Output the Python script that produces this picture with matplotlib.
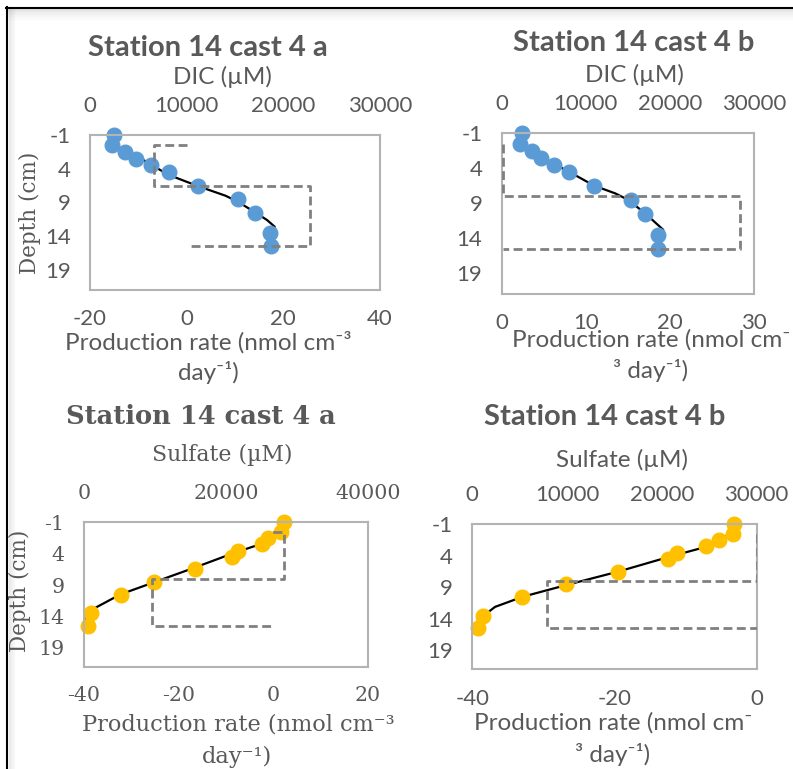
import matplotlib
matplotlib.use('Agg')
import matplotlib.pyplot as plt
from matplotlib.lines import Line2D

plt.rcParams['axes.unicode_minus'] = False

W, H = 793, 769

# ---------------- data ----------------
depth = [-1, 0.5, 1.5, 2.5, 3.5, 4.5, 6.5, 8.5, 10.5, 13.5, 15.5]
dic_a = [2480, 2240, 3620, 4760, 6280, 8170, 11140, 15350, 17070, 18620, 18700]
dic_b = [2375, 2180, 3560, 4670, 6250, 8000, 11000, 15360, 17020, 18600, 18600]
sulf_a = [28130, 27750, 26000, 25160, 21710, 20820, 15720, 9910, 5190, 944, 566]
sulf_b = [27600, 27530, 26010, 24600, 21610, 20620, 15370, 9870, 5217, 1093, 634]

fit_a_depth = [2.7, 4.9, 6.6, 8.0, 8.9, 10.5, 11.6, 12.6, 14.8]
fit_a_dic = [5500, 8100, 11200, 14000, 15300, 17100, 18300, 19100, 19000]
fit_b_depth = [3.5, 4.5, 6.5, 7.6, 8.5, 10.5, 12.8, 15.0]
fit_b_dic = [6400, 8000, 11000, 13500, 15000, 17100, 19200, 18900]
fit_c_depth = [0.2, 2.4, 3.9, 6.3, 8.5, 10.5, 12.8, 14.0, 14.8]
fit_c_sulf = [27200, 25100, 21100, 15400, 10000, 5100, 1300, 200, 0]
fit_d_depth = [0.4, 2.6, 4.1, 6.5, 8.6, 10.5, 12.1, 13.6, 14.2]
fit_d_sulf = [27400, 24600, 20900, 15400, 10000, 5300, 2400, 1100, 600]

prof_a_rate = [0, -6.8, -6.8, 25.5, 25.5, 0]
prof_a_depth = [0.5, 0.5, 6.5, 6.5, 15.5, 15.5]
prof_b_rate = [0.15, 0.15, 28.3, 28.3, 0.15]
prof_b_depth = [0.5, 8, 8, 15.5, 15.5]
prof_c_rate = [0, 2.3, 2.3, -25.6, -25.6, 0]
prof_c_depth = [0.5, 0.5, 8, 8, 15.5, 15.5]
prof_d_rate = [0, 0, -29.5, -29.5, 0]
prof_d_depth = [0.5, 8, 8, 15.5, 15.5]

depth_ticks = [-1, 4, 9, 14, 19]
titles = ["Station 14 cast 4 a", "Station 14 cast 4 b", "Station 14 cast 4 a", "Station 14 cast 4 b"]

# ---------------- style ----------------
SANS = ['Lato', 'DejaVu Sans']
SERIF = ['DejaVu Serif', 'DejaVu Sans']
TXT = '#595959'
BLUE = '#5B9BD5'
GOLD = '#FFC000'
DASH = '#808080'
SPINE = '#B3B3B3'

fig = plt.figure(figsize=(W / 100, H / 100), dpi=100)


def fx(x):
    return x / W


def fy(y):
    return 1 - y / H


def panel(box, rate_lim, rate_ticks, conc_lim, conc_ticks, conc, fit_d, fit_c,
          prof_r, prof_d, color, fam, tsize):
    l, r, t, b = box
    ax = fig.add_axes([fx(l), fy(b), (r - l) / W, (b - t) / H])
    ax.set_xlim(*rate_lim)
    ax.set_ylim(22, -1)
    ax.set_xticks(rate_ticks)
    ax.set_yticks(depth_ticks)
    ax.tick_params(length=0, labelsize=tsize, labelcolor=TXT, pad=14)
    for lab in ax.get_xticklabels() + ax.get_yticklabels():
        lab.set_family(fam)
    for s in ax.spines.values():
        s.set_color(SPINE)
        s.set_linewidth(1.5)
    ax.patch.set_alpha(0)
    ax2 = ax.twiny()
    ax2.set_xlim(*conc_lim)
    ax2.set_xticks(conc_ticks)
    ax2.tick_params(length=0, labelsize=tsize, labelcolor=TXT, pad=14)
    for lab in ax2.get_xticklabels():
        lab.set_family(fam)
    for s in ax2.spines.values():
        s.set_visible(False)
    ax2.plot(conc, depth, 'o', color=color, ms=10.5, mec=color, zorder=3, clip_on=False)
    ax2.plot(fit_c, fit_d, '-', color='black', lw=1.6, zorder=2)
    ax.set_zorder(ax2.get_zorder() + 1)
    ax.plot(prof_r, prof_d, color=DASH, lw=2.0, ls=(0, (3.2, 1.6)), zorder=4)
    return ax, ax2


panel((90, 380, 135, 290), (-20, 40), [-20, 0, 20, 40], (0, 30000), [0, 10000, 20000, 30000],
      dic_a, fit_a_depth, fit_a_dic, prof_a_rate, prof_a_depth, BLUE, SANS, 16)
panel((501.7, 754, 133.3, 294), (0, 30), [0, 10, 20, 30], (0, 30000), [0, 10000, 20000, 30000],
      dic_b, fit_b_depth, fit_b_dic, prof_b_rate, prof_b_depth, BLUE, SANS, 16)
panel((84, 367.7, 522.3, 666.7), (-40, 20), [-40, -20, 0, 20], (0, 40000), [0, 20000, 40000],
      sulf_a, fit_c_depth, fit_c_sulf, prof_c_rate, prof_c_depth, GOLD, SERIF, 14.8)
panel((472.3, 756.7, 524.3, 669.3), (-40, 0), [-40, -20, 0], (0, 30000), [0, 10000, 20000, 30000],
      sulf_b, fit_d_depth, fit_d_sulf, prof_d_rate, prof_d_depth, GOLD, SANS, 16)


def T(x, y, s, fam, size, bold=False, rot=0):
    fig.text(fx(x), fy(y), s, family=fam, fontsize=size, color=TXT,
             weight='bold' if bold else 'normal', ha='center', va='center', rotation=rot)


AX_SANS = 17.5
# panel a
T(208, 48, titles[0], SANS, 21, bold=True)
T(222, 77, "DIC (µM)", SANS, AX_SANS)
T(208, 342, "Production rate (nmol cm⁻³", SANS, AX_SANS)
T(208, 373, "day⁻¹)", SANS, AX_SANS)
T(30, 213, "Depth (cm)", SERIF, 15.5, rot=90)
# panel b
T(634, 43, titles[1], SANS, 21, bold=True)
T(634, 75, "DIC (µM)", SANS, AX_SANS)
T(651, 340, "Production rate (nmol cm⁻", SANS, AX_SANS)
T(651, 370, "³ day⁻¹)", SANS, AX_SANS)
# panel c
T(201, 417, titles[2], SERIF, 18.5, bold=True)
T(222, 455, "Sulfate (µM)", SERIF, 15.8)
T(238, 725, "Production rate (nmol cm⁻³", SERIF, 16.2)
T(237, 757, "day⁻¹)", SERIF, 16.2)
T(20, 591, "Depth (cm)", SERIF, 15.5, rot=90)
# panel d
T(605, 417, titles[3], SANS, 21, bold=True)
T(622, 460, "Sulfate (µM)", SANS, AX_SANS)
T(613, 723, "Production rate (nmol cm⁻", SANS, AX_SANS)
T(613, 755, "³ day⁻¹)", SANS, AX_SANS)

# frame with soft shadow
for i, a in enumerate([0.10, 0.07, 0.05, 0.035, 0.02, 0.01]):
    fig.add_artist(Line2D([fx(8), 1], [fy(10 + 2 * i), fy(10 + 2 * i)], color='black',
                          alpha=a, lw=1.6))
for i, a in enumerate([0.08, 0.05, 0.03]):
    fig.add_artist(Line2D([fx(9.5 + 2 * i), fx(9.5 + 2 * i)], [fy(8), 0], color='black',
                          alpha=a, lw=1.6))
fig.add_artist(Line2D([fx(6), 1], [fy(7.5), fy(7.5)], color='black', lw=1.5))
fig.add_artist(Line2D([fx(7), fx(7)], [fy(6.5), 0], color='black', lw=1.5))

fig.savefig('out.png', dpi=100)
